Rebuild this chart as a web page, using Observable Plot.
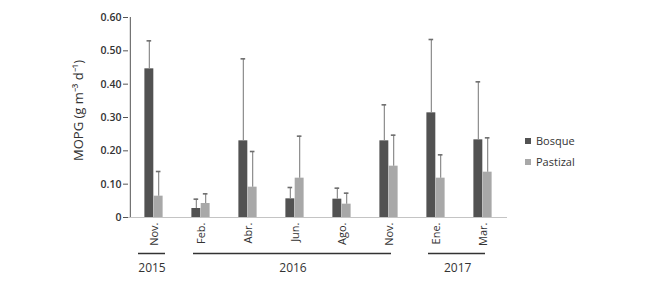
<!DOCTYPE html>
<html><head><meta charset="utf-8">
<script src="https://cdn.jsdelivr.net/npm/d3@7"></script>
<script src="https://cdn.jsdelivr.net/npm/@observablehq/plot@0.6"></script>
<style>
body{margin:0;background:#fff;font-family:"Open Sans",sans-serif;}
#wrap{position:relative;width:650px;height:291px;}
.leg{position:absolute;left:525px;font-size:11px;color:#333;display:flex;align-items:center;line-height:12px;}
.leg .sw{width:6px;height:6px;display:inline-block;margin-right:5px;}
</style></head><body><div id="wrap"></div>
<script>
const months = ["Nov.","Feb.","Abr.","Jun.","Ago.","Nov.","Ene.","Mar."];
const series = ["Bosque","Pastizal"];
const colors = ["#525252","#a8a8a8"];
const bosque = [0.446,0.027,0.230,0.056,0.055,0.230,0.314,0.233];
const bosqueSD = [0.084,0.028,0.246,0.034,0.033,0.108,0.220,0.174];
const pastizal = [0.064,0.042,0.091,0.118,0.040,0.154,0.118,0.136];
const pastizalSD = [0.074,0.029,0.107,0.126,0.033,0.093,0.070,0.103];
const yTicks = [0,0.1,0.2,0.3,0.4,0.5,0.6];
const yearLabels = ["2015","2016","2017"];
const yearFirst = [0,1,6];
const yearLast = [0,5,7];

const W = 650, H = 291, ML = 128, MR = 143, MT = 17, MB = 74;
const step = (W - ML - MR) / months.length;
const half = step / 2, barW = 9.3;

const idx = d3.range(months.length);
const rowsB = idx.map(i => ({i, v: bosque[i], sd: bosqueSD[i]}));
const rowsP = idx.map(i => ({i, v: pastizal[i], sd: pastizalSD[i]}));
const groups = yearLabels.map((y, k) => ({year: y, first: yearFirst[k], last: yearLast[k], mid: Math.floor((yearFirst[k] + yearLast[k]) / 2), frac: ((yearFirst[k] + yearLast[k]) / 2) % 1}));

const errColor = "#8c8c8c";
const capW = 5;

function seriesMarks(rows, color, side) {
  const off = side * barW / 2;
  return [
    Plot.barY(rows, {x: "i", y: "v", fill: color,
      insetLeft: side < 0 ? half - barW : half, insetRight: side < 0 ? half : half - barW}),
    Plot.ruleX(rows, {x: "i", y1: "v", y2: d => d.v + d.sd, stroke: errColor, strokeWidth: 1.2, dx: off}),
    Plot.tickY(rows, {x: "i", y: d => d.v + d.sd, stroke: "#6e6e6e", strokeWidth: 1.6,
      insetLeft: half + off - capW / 2, insetRight: half - off - capW / 2})
  ];
}

const chart = Plot.plot({
  width: W, height: H,
  marginLeft: ML, marginRight: MR, marginTop: MT, marginBottom: MB,
  style: {fontFamily: "'Open Sans', sans-serif", color: "#333", background: "#fff"},
  x: {type: "band", domain: idx, padding: 0},
  y: {domain: [0, 0.6]},
  marks: [
    Plot.ruleY([0], {stroke: "#c4c4c4", strokeWidth: 1.2}),
    Plot.ruleX([0], {x: d => d, y1: 0, y2: 0.6, dx: -half, stroke: "#555", strokeWidth: 1}),
    Plot.axisY({ticks: yTicks, tickFormat: d => d === 0 ? "0" : d.toFixed(2), tickSize: 5, tickPadding: 2,
      fontSize: 10.5, fontWeight: 600, stroke: "#555", label: null}),
    Plot.text(["MOPG (g m\u207B\u00B3 d\u207B\u00B9)"], {frameAnchor: "left", textAnchor: "middle", dx: -50, dy: -7, rotate: -90, fontSize: 13, fill: "#333", text: d => d}),
    Plot.axisX({tickFormat: d => months[d], tickRotate: -90, tickSize: 0, tickPadding: 5, fontSize: 11, label: null}),
    ...seriesMarks(rowsB, colors[0], -1),
    ...seriesMarks(rowsP, colors[1], 1),
    Plot.ruleY(groups.filter(g => g.first === g.last), {x1: "first", x2: "last", y: 0, dy: 36, stroke: "#333", strokeWidth: 1.5, insetLeft: 8, insetRight: 12}),
    Plot.ruleY(groups.filter(g => g.first !== g.last), {x1: "first", x2: "last", y: 0, dy: 36, stroke: "#333", strokeWidth: 1.5, insetLeft: 16, insetRight: 21}),
    Plot.text(groups.filter(g => g.frac === 0), {x: "mid", y: 0, dy: 51, text: "year", fontSize: 12, fill: "#333", dx: -2}),
    Plot.text(groups.filter(g => g.frac !== 0), {x: "mid", y: 0, dy: 51, text: "year", fontSize: 12, fill: "#333", dx: half - 2})
  ]
});
const wrap = document.getElementById("wrap");
wrap.appendChild(chart);
series.forEach((s, k) => {
  const div = document.createElement("div");
  div.className = "leg";
  div.style.top = (135 + k * 21) + "px";
  div.innerHTML = `<span class="sw" style="background:${colors[k]}"></span>${s}`;
  wrap.appendChild(div);
});
</script></body></html>
